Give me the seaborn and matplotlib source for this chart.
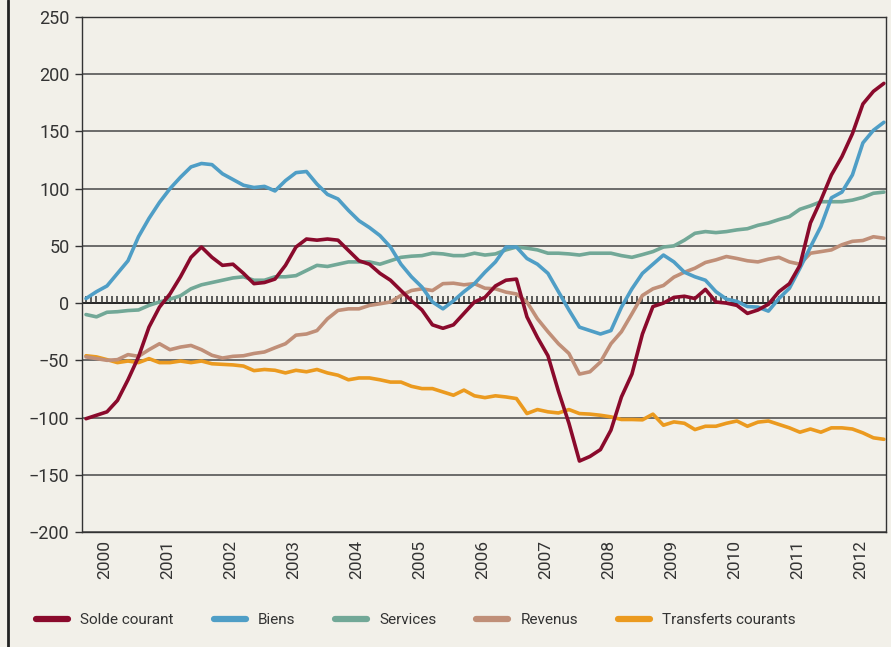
import numpy as np
import pandas as pd
import matplotlib.pyplot as plt
from matplotlib.lines import Line2D
import seaborn as sns

# un point tous les deux mois, de début 2000 à l'été 2012
mois = np.arange(0, 153, 2)
annees = [str(a) for a in range(2000, 2013)]

solde_courant = [-101, -98, -95, -85, -67, -47, -21, -3.5, 8, 23,
                 40, 49, 40, 33, 34, 26, 17, 18, 21, 33,
                 49, 56, 55, 56, 55, 46, 37, 34, 26, 20,
                 11, 2, -6, -19, -22, -19, -9, 1, 5, 15,
                 20, 21, -12, -30, -46, -77, -105, -138, -134, -128,
                 -111, -82, -62, -27, -3, 0, 5, 6, 4, 12,
                 1, 0, -2, -9, -6, -1, 10, 17, 33, 70,
                 90, 112, 128, 148, 174, 185, 192]
biens = [4, 10, 15, 26, 37, 58, 74, 88, 100, 110,
         119, 122, 121, 113, 108, 103, 101, 102, 98, 107,
         114, 115, 104, 95, 91, 81, 72, 66, 59, 49,
         34, 23, 14, 1, -5, 2, 10, 17, 27, 36,
         49, 49, 39, 34, 26, 10, -6, -21, -24, -27,
         -24, -3.5, 12.5, 26, 34, 42, 36, 27, 23, 20,
         10, 3.5, 1.5, -3, -3.5, -7, 4, 13, 30.5, 49,
         67, 92, 97, 112, 140, 151, 158]
services = [-10, -12, -8, -7.5, -6.5, -6, -2, 1, 3.5, 6.4,
            12.5, 16, 18, 20, 22, 23, 20, 20, 23, 23,
            24, 28.5, 33, 32, 34, 36, 36, 36, 34, 37,
            40, 41, 41.5, 43.6, 43, 41.5, 41.5, 43.6, 42, 43,
            46.5, 49, 48, 46.5, 43.6, 43.6, 43, 42, 43.6, 43.6,
            43.6, 41.5, 40, 42.4, 45, 49, 50, 55, 61, 62.5,
            61.6, 62.5, 64, 65, 68, 70, 73, 75.6, 82, 85,
            88.6, 88.6, 88.6, 90, 92.4, 96, 97]
revenus = [-47, -48.5, -50, -49.4, -45, -46.5, -40.7, -35.5, -40.7, -38.4,
           -37, -40.7, -45.6, -48, -46.5, -46, -44, -42.7, -39, -35.5,
           -28, -27, -24, -13.7, -6.4, -5, -5, -2, -0.6, 1,
           6.7, 11, 12.5, 11, 17, 17.4, 16, 17, 13, 12.5,
           9.6, 8, 1, -13.7, -25, -35.5, -44, -62, -60, -51.5,
           -35.5, -25, -9.3, 6.7, 12.5, 15.4, 22.7, 27, 30.5, 35.5,
           37.8, 40.7, 39, 37, 36, 38.4, 40, 36, 34, 43.6,
           45, 46.5, 51, 54, 54.7, 58, 56.7]
transferts = [-46, -47, -49.4, -52, -50.6, -52, -48.5, -52, -52, -50.6,
              -52, -50.6, -53, -53.5, -54, -55, -59, -58, -58.7, -61,
              -58.7, -60, -58, -61, -63, -67, -65.4, -65.4, -67, -69,
              -69, -72.7, -74.7, -74.7, -77.6, -80.5, -76, -81, -82.6, -81,
              -82, -83.4, -96.5, -93, -95, -96, -93, -96.5, -97, -98,
              -99.4, -101.7, -101.7, -102, -97, -106.7, -103.8, -105, -110.5, -107.6,
              -107.6, -105, -103, -107.6, -104, -103, -106, -109, -112.8, -110,
              -112.8, -109, -109, -110, -113.4, -117.7, -119]

series = {
    'Solde courant': solde_courant,
    'Biens': biens,
    'Services': services,
    'Revenus': revenus,
    'Transferts courants': transferts,
}
couleurs = {
    'Solde courant': '#8a0a2c',
    'Biens': '#4f9ec6',
    'Services': '#72a897',
    'Revenus': '#c08f78',
    'Transferts courants': '#eb9a1f',
}
fond = '#f2f0e9'

df = pd.DataFrame({'mois': mois, **series}).melt(id_vars='mois', var_name='serie', value_name='valeur')

sns.set_theme(style='white')
plt.rcParams['font.family'] = ['Roboto', 'DejaVu Sans']

fig, ax = plt.subplots(figsize=(8.91, 6.47), dpi=100)
fig.patch.set_facecolor(fond)
ax.set_facecolor(fond)
fig.subplots_adjust(left=82/891, right=886/891, top=1-17/647, bottom=1-532/647)

# grille + ligne du zéro avec les petites graduations mensuelles
ax.set_yticks(range(-200, 251, 50))
ax.yaxis.grid(True, color='#555555', linewidth=1.2)
ax.set_axisbelow(True)
ax.axhline(0, color='#222222', linewidth=1.3, zorder=1)
ax.vlines(np.arange(0, 152), 0, 6, color='#333333', linewidth=1.1, zorder=1.5)

# Solde courant tracé en dernier (au-dessus)
ordre_trace = list(reversed(list(series)))
sns.lineplot(data=df, x='mois', y='valeur', hue='serie', hue_order=ordre_trace,
             palette=couleurs, linewidth=2.6, ax=ax, legend=False)

ax.set_xlim(-0.76, 152.4)
ax.set_ylim(-200, 250)
ax.set_xlabel('')
ax.set_ylabel('')
ax.set_xticks(np.arange(len(annees)) * 12 + 3.5)
ax.set_xticklabels(annees, rotation=90)
ax.tick_params(axis='x', length=0, pad=6, labelsize=12.5, labelcolor='#333333')
ax.tick_params(axis='y', left=True, length=5, width=1, pad=4, labelsize=13,
               color='#333333', labelcolor='#333333')
for s in ax.spines.values():
    s.set_color('#333333')
    s.set_linewidth(1)

poignees = [Line2D([], [], color=couleurs[n], linewidth=4.5, solid_capstyle='round') for n in series]
leg = fig.legend(poignees, list(series), loc='center left', bbox_to_anchor=(36/891, 1-620/647),
                 ncol=5, frameon=False, fontsize=11, handlelength=2.1, handletextpad=0.8,
                 columnspacing=2.6, borderpad=0, borderaxespad=0)
for t in leg.get_texts():
    t.set_color('#333333')

# filet noir sur le bord gauche
fig.add_artist(Line2D([8/891, 8/891], [0, 1], transform=fig.transFigure, color='#222222', linewidth=2))

fig.savefig('out.png', dpi=100, facecolor=fond)
